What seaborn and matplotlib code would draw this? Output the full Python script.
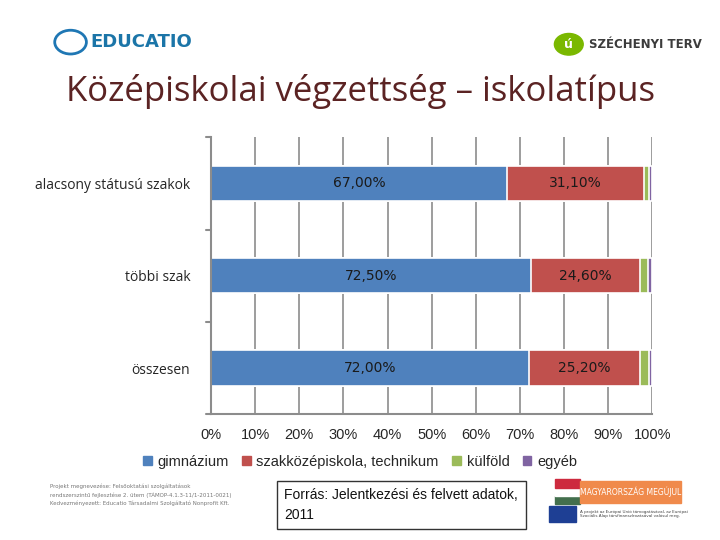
import numpy as np
import pandas as pd
import seaborn as sns
import matplotlib.pyplot as plt
from matplotlib.patches import Rectangle, Circle

categories = ["alacsony státusú szakok", "többi szak", "összesen"]
series = ["gimnázium", "szakközépiskola, technikum", "külföld", "egyéb"]
gimnazium = [67.0, 72.5, 72.0]
szakkozep = [31.1, 24.6, 25.2]
kulfold = [1.2, 1.9, 2.1]
egyeb = [0.7, 1.0, 0.7]
colors = ["#4f81bd", "#c0504d", "#9bbb59", "#8064a2"]
xticks = [0, 10, 20, 30, 40, 50, 60, 70, 80, 90, 100]

values = np.array([gimnazium, szakkozep, kulfold, egyeb])
cum = values.cumsum(axis=0)
rows = []
for i, s in enumerate(series):
    for j, c in enumerate(categories):
        rows.append({"series": s, "category": c, "value": values[i, j], "cum": cum[i, j]})
df = pd.DataFrame(rows)

sns.set_style("white")
plt.rcParams["font.family"] = ["DejaVu Sans"]
narrow = ["Liberation Sans Narrow", "Liberation Sans", "DejaVu Sans"]

fig = plt.figure(figsize=(7.2, 5.4), dpi=100)
ax = fig.add_axes([0.293, 0.233, 0.613, 0.513])

# stacked bars: draw cumulative totals from the last series backwards
for i in range(len(series) - 1, -1, -1):
    sub = df[df["series"] == series[i]]
    sns.barplot(data=sub, x="cum", y="category", order=categories, color=colors[i],
                orient="y", width=0.38, edgecolor="white", linewidth=1.2, ax=ax,
                saturation=1)

# value labels for the two main series
for i in range(2):
    for j in range(len(categories)):
        left = cum[i, j] - values[i, j]
        ax.text(left + values[i, j] / 2, j, f"{values[i, j]:.2f}%".replace(".", ","),
                ha="center", va="center", fontsize=10, color="#1a1a1a")

ax.set_xlim(0, 100)
ax.set_ylim(2.5, -0.5)
ax.set_xticks(xticks)
ax.set_xticklabels([f"{t}%" for t in xticks], fontsize=10.5, family=narrow)
ax.set_yticks([0, 1, 2])
ax.set_yticklabels(categories, fontsize=10, family=["Open Sans", "DejaVu Sans"])
ax.set_xlabel("")
ax.set_ylabel("")
ax.xaxis.grid(True, color="#8c8c8c", linewidth=1.2)
ax.set_axisbelow(True)
for side in ["top", "right"]:
    ax.spines[side].set_visible(False)
for side in ["left", "bottom"]:
    ax.spines[side].set_color("#8c8c8c")
    ax.spines[side].set_linewidth(1.5)
ax.tick_params(axis="x", length=0, pad=10)
ax.tick_params(axis="y", length=0, pad=15)
# category boundary ticks on the left spine
for b in [-0.5, 0.5, 1.5, 2.5]:
    ax.plot([-1.2, 0], [b, b], color="#8c8c8c", lw=1.5, clip_on=False)

handles = [Rectangle((0, 0), 1, 1, color=c) for c in colors]
fig.legend(handles, series, loc="center", bbox_to_anchor=(0.5, 0.145), ncol=4,
           frameon=False, prop={"family": narrow, "size": 10.5}, handlelength=0.6,
           handleheight=0.6, handletextpad=0.4, columnspacing=0.9)

# title
fig.text(0.5, 0.83, "Középiskolai végzettség – iskolatípus", ha="center", va="center",
         fontsize=25, color="#5b2323", family=["Open Sans", "DejaVu Sans"])

# header logos (text approximations)
fig.patches.append(Circle((0.098, 0.922), 0.022, transform=fig.transFigure,
                          fill=False, edgecolor="#1f77b4", lw=2))
fig.text(0.125, 0.922, "EDUCATIO", ha="left", va="center", fontsize=13,
         fontweight="bold", color="#1b75a8")
fig.patches.append(Circle((0.79, 0.918), 0.02, transform=fig.transFigure,
                          color="#7ab800"))
fig.text(0.79, 0.918, "ú", ha="center", va="center", fontsize=9, color="white",
         fontweight="bold")
fig.text(0.818, 0.918, "SZÉCHENYI TERV", ha="left", va="center", fontsize=8.5,
         fontweight="bold", color="#3c3c3c")

# footer
fig.text(0.07, 0.105, "Projekt megnevezése: Felsőoktatási szolgáltatások\n"
         "rendszerszintű fejlesztése 2. ütem (TÁMOP-4.1.3-11/1-2011-0021)\n"
         "Kedvezményezett: Educatio Társadalmi Szolgáltató Nonprofit Kft.",
         ha="left", va="top", fontsize=4, color="#777777", linespacing=1.6)
fig.text(0.395, 0.065, "Forrás: Jelentkezési és felvett adatok,\n2011", ha="left",
         va="center", fontsize=10, color="#111111", linespacing=1.5, family=narrow,
         bbox=dict(boxstyle="square,pad=0.55", facecolor="white", edgecolor="#333333", lw=1))

# Hungarian flag + "Magyarország megújul" banner
for k, col in enumerate(["#436f4d", "#ffffff", "#cd2a3e"]):
    fig.patches.append(Rectangle((0.771, 0.066 + k * 0.0155), 0.035, 0.0155,
                                 transform=fig.transFigure, color=col))
fig.patches.append(Rectangle((0.806, 0.069), 0.14, 0.04, transform=fig.transFigure,
                             color="#f08a4b"))
fig.text(0.876, 0.089, "MAGYARORSZÁG MEGÚJUL", ha="center", va="center",
         fontsize=5.5, color="white")
# EU flag + note
fig.patches.append(Rectangle((0.762, 0.033), 0.038, 0.03, transform=fig.transFigure,
                             color="#1e3f94"))
fig.text(0.806, 0.048, "A projekt az Európai Unió támogatásával, az Európai\n"
         "Szociális Alap társfinanszírozásával valósul meg.", ha="left", va="center",
         fontsize=3, color="#444444")

fig.savefig("out.png", dpi=100)
